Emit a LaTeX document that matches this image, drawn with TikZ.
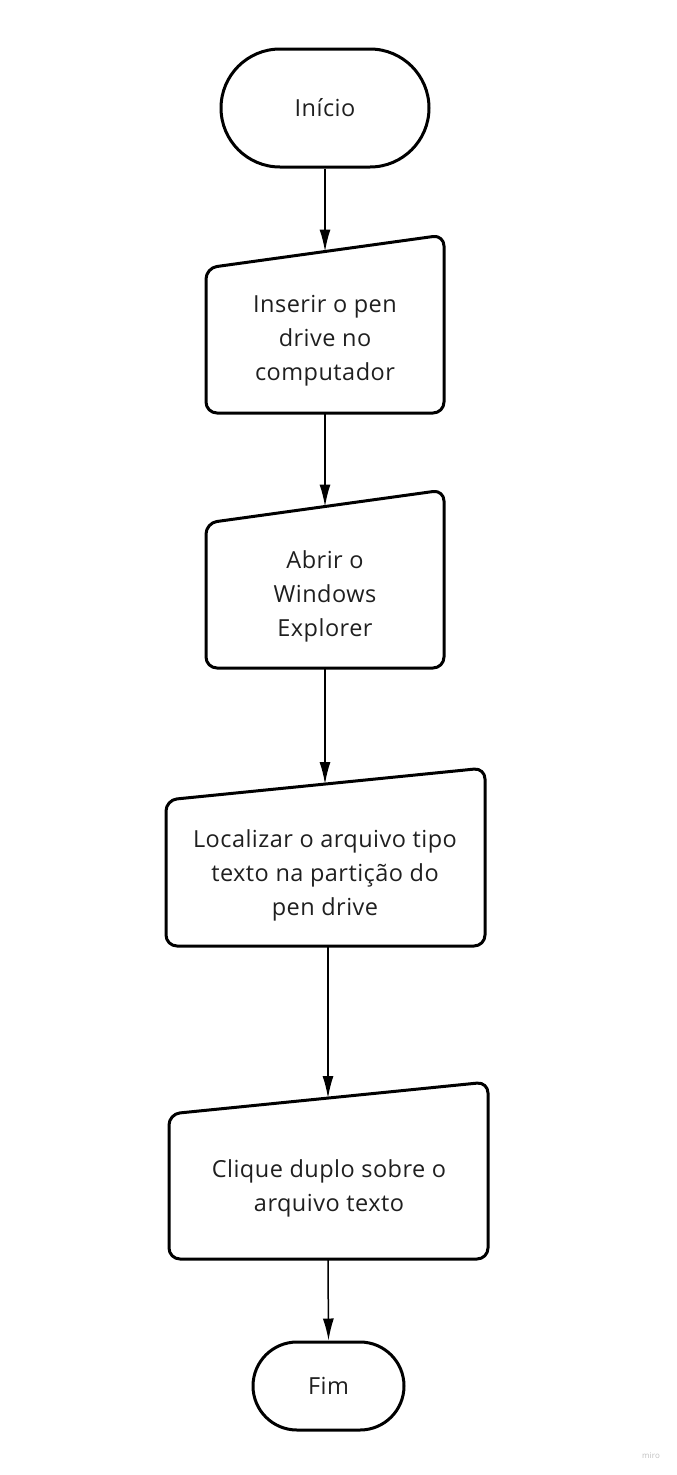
\documentclass[tikz,border=0pt]{standalone}
\usepackage{fontspec}
\setmainfont{Open Sans}[LetterSpace=2]
\usetikzlibrary{arrows.meta,shapes.misc}
\definecolor{txt}{HTML}{1F1F1F}
\begin{document}
\begin{tikzpicture}[x=1pt,y=-1pt,
  term/.style={draw=black,line width=3pt,rounded rectangle,minimum width=#1,inner sep=0pt,font=\fontsize{23.5}{34}\selectfont,text=txt},
  shapebox/.style={draw=black,line width=3pt,rounded corners=11pt,line join=round},
  lbl/.style={align=center,font=\fontsize{23.5}{34}\selectfont,text=txt,inner sep=0pt},
  conn/.style={line width=1.5pt,-{Latex[length=22pt,width=11pt]}},
  wm/.style={font=\fontsize{8}{8}\selectfont,text=black!25}]
\useasboundingbox (0,0) rectangle (677,1475);
% terminals
\node[term=208pt,minimum height=118pt] (s) at (325,108) {Início};
\node[term=151pt,minimum height=88pt] (f) at (328.5,1386) {Fim};
% box 1
\draw[shapebox] (206,268) -- (444,235) -- (444,413) -- (206,413) -- cycle;
\coordinate (b1t) at (325,251.5);
\coordinate (b1b) at (325,413);
\node[lbl] (t1) at (325,341) {Inserir o pen\\drive no\\computador};
% box 2
\draw[shapebox] (206,523) -- (444,490) -- (444,668) -- (206,668) -- cycle;
\coordinate (b2t) at (325,506.5);
\coordinate (b2b) at (325,668);
\node[lbl] (t2) at (325,596) {Abrir o\\Windows\\Explorer};
% box 3
\draw[shapebox] (166,800) -- (485,768) -- (485,946) -- (166,946) -- cycle;
\coordinate (b3t) at (325,784);
\coordinate (b3b) at (328,946);
\node[lbl] (t3) at (325,875) {Localizar o arquivo tipo\\texto na partição do\\pen drive};
% box 4
\draw[shapebox] (169,1114) -- (488,1082) -- (488,1259) -- (169,1259) -- cycle;
\coordinate (b4t) at (328,1098);
\coordinate (b4b) at (328,1259);
\node[lbl] (t4) at (329,1188) {Clique duplo sobre o\\arquivo texto};
% connectors
\draw[conn] (s.south) -- (b1t);
\draw[conn] (b1b) -- (b2t);
\draw[conn] (b2b) -- (b3t);
\draw[conn] (b3b) -- (b4t);
\draw[conn] (b4b) -- (f.north);
\node[wm] (m) at (651,1456) {miro};
\end{tikzpicture}
\end{document}
